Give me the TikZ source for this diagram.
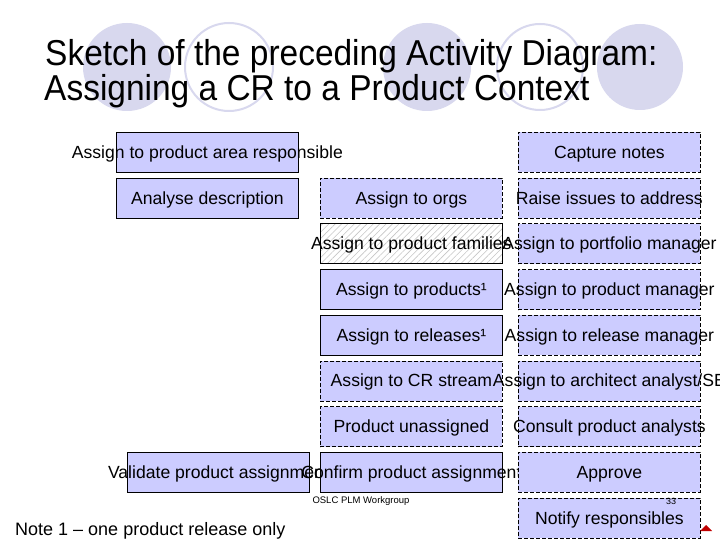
\documentclass[tikz,border=0pt]{standalone}
\usepackage{fontspec}
\setmainfont{Liberation Sans}
\newfontfamily\titlefont[FakeStretch=0.93]{Liberation Sans}
\usetikzlibrary{patterns.meta}
\definecolor{boxfill}{RGB}{204,204,255}
\definecolor{circfill}{RGB}{216,216,238}
\definecolor{trired}{RGB}{192,0,0}
\begin{document}
\begin{tikzpicture}[x=1pt,y=-1pt,
  basebox/.style={draw=black, line width=0.8pt, minimum width=182pt, minimum height=40pt,
    inner sep=0pt, anchor=north west, text height=12pt, text depth=0pt,
    font=\fontsize{17.6}{20}\selectfont},
  solidbox/.style={basebox, fill=boxfill},
  dashbox/.style={basebox, fill=boxfill, dash pattern=on 4pt off 2pt},
  hatchbox/.style={basebox, preaction={fill=white},
    pattern={Lines[angle=45, distance=4.5pt, line width=0.6pt]}, pattern color=gray!45},
  deco/.style={circfill},
  plain/.style={inner sep=0pt}
]
\useasboundingbox (0,0) rectangle (720,540);
\fill[white] (0,0) rectangle (720,540);
% decorative circles behind the title
\fill[deco] (127,67) circle[radius=44];
\draw[deco, line width=2pt] (229,67) circle[radius=44];
\fill[deco] (427,67) circle[radius=44];
\draw[deco, line width=2pt] (540,67) circle[radius=43];
\fill[deco] (640,67) circle[radius=43];
% title
\node[plain, anchor=base west, font=\titlefont\fontsize{36}{36}\selectfont] (title1) at (45,66) {Sketch of the preceding Activity Diagram:};
\node[plain, anchor=base west, font=\titlefont\fontsize{36}{36}\selectfont] (title2) at (44,101) {Assigning a CR to a Product Context};
% row 0
\node[solidbox] (areaResp) at (116,132) {\makebox[0pt]{Assign to product area responsible}};
\node[dashbox] (capture) at (518,132) {\makebox[0pt]{Capture notes}};
% row 1
\node[solidbox] (analyse) at (116,177.7) {\makebox[0pt]{Analyse description}};
\node[dashbox] (orgs) at (320,177.7) {\makebox[0pt]{Assign to orgs}};
\node[dashbox] (raise) at (518,177.7) {\makebox[0pt]{Raise issues to address}};
% row 2
\node[hatchbox] (families) at (320,223.4) {\makebox[0pt]{Assign to product families}};
\node[dashbox] (portfolio) at (518,223.4) {\makebox[0pt]{Assign to portfolio manager}};
% row 3
\node[solidbox] (products) at (320,269.1) {\makebox[0pt]{Assign to products¹}};
\node[dashbox] (prodMgr) at (518,269.1) {\makebox[0pt]{Assign to product manager}};
% row 4
\node[solidbox] (releases) at (320,314.8) {\makebox[0pt]{Assign to releases¹}};
\node[dashbox] (relMgr) at (518,314.8) {\makebox[0pt]{Assign to release manager}};
% row 5
\node[dashbox] (crStream) at (320,360.5) {\makebox[0pt]{Assign to CR stream}};
\node[dashbox] (architect) at (518,360.5) {\makebox[0pt]{Assign to architect analyst/SE}};
% row 6
\node[dashbox] (unassigned) at (320,406.2) {\makebox[0pt]{Product unassigned}};
\node[dashbox] (consult) at (518,406.2) {\makebox[0pt]{Consult product analysts}};
% row 7
\node[solidbox] (validate) at (127,451.9) {\makebox[0pt]{Validate product assignment}};
\node[solidbox] (confirm) at (320,451.9) {\makebox[0pt]{Confirm product assignment}};
\node[dashbox] (approve) at (518,451.9) {\makebox[0pt]{Approve}};
% row 8
\node[dashbox] (notify) at (518,497.6) {\makebox[0pt]{Notify responsibles}};
% footer texts
\node[plain, font=\fontsize{9.5}{10}\selectfont] (footer) at (361,501) {OSLC PLM Workgroup};
\node[plain, font=\fontsize{9}{10}\selectfont] (pagenum) at (671,501) {33};
\node[plain, anchor=base west, font=\fontsize{18}{20}\selectfont] (note) at (15,535) {Note 1 – one product release only};
% small red triangle
\fill[trired] (700,531) -- (706,525) -- (712,531) -- cycle;
\end{tikzpicture}
\end{document}
